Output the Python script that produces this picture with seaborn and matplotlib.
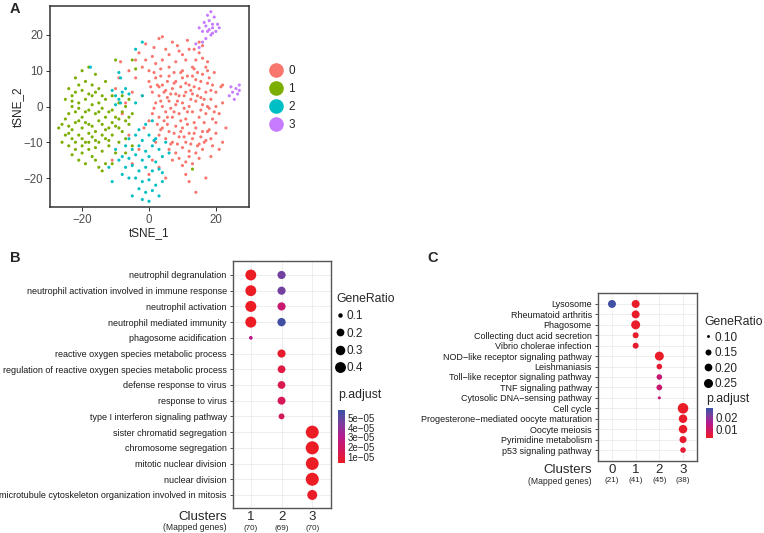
import numpy as np
import pandas as pd
import seaborn as sns
import matplotlib.pyplot as plt
from matplotlib.colors import LinearSegmentedColormap, Normalize
from matplotlib.cm import ScalarMappable
from matplotlib.lines import Line2D

# ---------------- panel A: tSNE embedding ----------------
cl0_pts = [
    (-3, 15), (-1, 17.5), (1, 14), (3, 19), (5, 16), (7, 18), (9, 15.5), (11, 13), (2, 12), (-2, 11),
    (0, 10), (4, 13), (6, 11), (8, 12.5), (10, 10), (12, 16), (13, 11), (15, 15), (14, 13), (-4, 13),
    (1.5, 16.5), (6, 14.5), (3.5, 10.5), (8.5, 17), (11.5, 18.5), (4, 19.5), (16, 13.5), (17, 11), (-1, 13),
    (10, 14.5), (13, 8.5), (0, 7), (2, 8), (4, 6), (6, 8.5), (8, 7), (10, 8), (12, 6), (14, 7.5), (16, 9),
    (18, 8), (19, 6), (20, 4), (1, 4), (3, 3), (5, 4.5), (7, 5), (9, 3), (11, 4), (13, 3.5), (15, 5), (17, 4),
    (18.5, 2), (2, 1), (4, 0), (6, 1.5), (8, 0.5), (10, 1), (12, 0), (14, 1.5), (16, 0.5), (18, -0.5), (20, 0),
    (1, -2), (3, -3), (5, -1.5), (7, -3), (9, -2), (11, -3.5), (13, -1.5), (15, -3), (17, -2), (19, -3.5),
    (0.5, 5.5), (11, 6.5), (7.5, 9.5), (15.5, 2.5), (9.5, 5.5), (5.5, 2.5), (13.5, 5.5), (17.5, 6.5), (3, 5.5),
    (12.5, 2), (6.5, -0.5), (16.5, -4.5), (21, -2), (22, 1), (21.5, 5.5), (19.5, 9.5), (17.5, 12.5), (14.5, 9.5),
    (8, 3.5), (10.5, -0.5), (4.5, -4), (2.5, -5), (4, -6), (6, -7), (8, -5.5), (10, -6), (12, -7.5), (14, -6),
    (16, -7), (18, -6.5), (20, -7.5), (5, -9), (7, -10), (9, -8.5), (11, -10), (13, -9), (15, -10.5), (17, -9.5),
    (19, -11), (6, -12), (8, -13), (10, -11.5), (12, -12.5), (14, -13), (16, -12), (9, -14.5), (11, -15.5),
    (7, -15), (13, -16), (3, -8), (2, -10), (21, -12), (20, -4.5), (18.5, -14), (5, -20), (11, -19), (12, -21),
    (17, -20), (14, -24), (-8, -2), (-7, 1), (-6, -8), (-9, 8), (-3, -12), (-5, -16), (-11, -15), (0, -19),
    (22, -10), (23, -6), (-5, 4), (-10, 5), (-4, 8), (-6, 10), (22, 6), (13.5, 16), (15, 18), (16, 17),
    (-1.5, -6), (0, -4), (-2, 3), (-8.5, 12.5), (1, -15), (3, -17), (1.5, 9.5), (3.5, 8.5), (5.5, 7), (7.5, 6.5),
    (9.5, 9.5), (11.5, 8.5), (13.5, 10.5), (15.5, 7), (17.5, 10), (2.5, 6), (4.5, 4), (6.5, 3.5), (8.5, 1.5),
    (10.5, 3), (12.5, 4.5), (14.5, 3), (16.5, 2), (18.5, 4.5), (1.5, -0.5), (3.5, 1.5), (5.5, -3), (7.5, -1.5),
    (9.5, -4), (11.5, -1.5), (13.5, -4.5), (15.5, -1), (17.5, 0), (19.5, -1.5), (3.5, -6.5), (5.5, -5),
    (7.5, -7.5), (9.5, -7), (11.5, -5), (13.5, -7.5), (15.5, -8.5), (17.5, -7), (6.5, -10.5), (8.5, -10.5),
    (10.5, -8.5), (12.5, -10.5), (14.5, -11), (16.5, -10), (18.5, -9), (10, -16.5), (12, -14), (15, -14.5),
]
cl1_pts = [
    (-20, 10), (-18, 11), (-22, 8), (-24, 5), (-19, 7), (-17, 6), (-21, 6), (-15, 5), (-13, 7), (-23, 3),
    (-16, 9), (-25, 2), (-23, 0), (-21, 1), (-19, 2), (-17, 3), (-15, 1), (-13, 2), (-11, 3), (-9, 1), (-7, 0),
    (-24, -2), (-22, -1.5), (-20, -3), (-18, -1), (-16, -2), (-14, -0.5), (-12, -1.5), (-10, -3), (-8, -1.5),
    (-6, -3), (-26, -5), (-24, -5.5), (-22, -4.5), (-20, -6), (-18, -5), (-16, -7), (-14, -5), (-12, -6),
    (-10, -5.5), (-8, -7), (-6, -5), (-25, -8), (-23, -9), (-21, -8), (-19, -10), (-17, -8.5), (-15, -10),
    (-13, -9), (-11, -8), (-9, -10), (-7, -9), (-24, -11), (-22, -12), (-20, -13), (-18, -12), (-16, -11.5),
    (-14, -12.5), (-12, -11), (-10, -13), (-21, -15), (-19, -16), (-16, -15), (-15, -17), (-14, -18),
    (-13, -16), (-7, -13), (-5, -11), (-27, -6), (-26, -10), (-23, -13.5), (-17, -14), (-11, -16), (-22, 4),
    (-20, 4.5), (-18, 3.5), (-16, 4), (-14, 3), (-23, 1.5), (-21, -0.5), (-19, -1.5), (-17, 0.5), (-15, -1.5),
    (-13, -3), (-11, -1), (-9, -3.5), (-25, -3.5), (-23, -6.5), (-21, -4), (-19, -4.5), (-17, -5.5), (-15, -4),
    (-13, -6.5), (-11, -4.5), (-24, -7.5), (-22, -10), (-20, -9), (-18, -7.5), (-16, -9.5), (-14, -8),
    (-12, -9.5), (-20, -11), (-18, -10), (-9, -6), (-7, -4), (-5, -2), (-6, 2), (-8, 3), (-5, 13), (-10, 13),
    (-4, 10.5), (13, -17.5),
]
cl2_pts = [
    (-10, 3), (-8, 4), (-9, 2), (-7, 5), (-11, 4.5), (-8.5, 1), (-6, 3.5), (-10, 0.5), (-17.5, 11),
    (-2, 18), (-4, 16), (-9, 9.5), (-8.5, 8), (-2, 3), (-6, -9), (-4, -8), (-2, -9.5), (0, -8), (2, -9),
    (-7, -11), (-5, -12), (-3, -11), (-1, -12.5), (1, -11), (3, -12), (-8, -14), (-6, -14.5), (-4, -13.5),
    (-2, -15), (0, -14), (2, -15.5), (4, -14), (-7, -17), (-5, -16.5), (-3, -18), (-1, -17), (1, -18),
    (3, -17.5), (-9, -15), (-10, -12), (-4, -20), (-2, -21), (0, -20.5), (2, -22), (-3, -23), (-1, -24),
    (1, -23.5), (3, -25), (-2, -26), (0, -26.5), (-5, -25), (4, -21), (5, -10), (-1, -5), (1, -4),
    (-12, -17), (-11, -21), (4, -18.5), (-3, -6.5), (6, -13), (-6, -20), (-8, -19), (1.5, -9.5), (-4, 1),
]
cl3_pts = [
    (16, 21), (17, 22.5), (18, 24), (19, 23), (20, 21), (18.5, 20), (17.5, 25.5), (19.5, 25), (16.5, 23.5),
    (20.5, 23), (18, 21.5), (19, 20.5), (15, 22), (17, 19), (21, 22), (18.5, 26.5), (16, 18), (15, 16.5),
    (14, 17.5), (19, 22), (17.5, 21), (25, 4), (26, 5), (27, 6), (24, 3), (25.5, 2), (26.5, 3.5), (24.5, 5.5),
    (27, 4.5),
]
cluster_colors = {"0": "#F8766D", "1": "#7CAE00", "2": "#00BFC4", "3": "#C77CFF"}

# ---------------- panel B: GO enrichment ----------------
terms_b = ["neutrophil degranulation", "neutrophil activation involved in immune response",
           "neutrophil activation", "neutrophil mediated immunity", "phagosome acidification",
           "reactive oxygen species metabolic process",
           "regulation of reactive oxygen species metabolic process", "defense response to virus",
           "response to virus", "type I interferon signaling pathway", "sister chromatid segregation",
           "chromosome segregation", "mitotic nuclear division", "nuclear division",
           "microtubule cytoskeleton organization involved in mitosis"]
b_cluster = [1, 1, 1, 1, 1, 2, 2, 2, 2, 2, 2, 2, 2, 2, 3, 3, 3, 3, 3]
b_term = [0, 1, 2, 3, 4, 0, 1, 2, 3, 5, 6, 7, 8, 9, 10, 11, 12, 13, 14]
b_ratio = [0.40, 0.40, 0.41, 0.41, 0.092, 0.22, 0.22, 0.22, 0.23, 0.22, 0.20, 0.20, 0.21, 0.13,
           0.58, 0.60, 0.57, 0.59, 0.33]
b_padj = [4e-6, 4e-6, 4e-6, 4e-6, 2.8e-5, 4.6e-5, 4.6e-5, 2.2e-5, 5.6e-5, 6e-6, 1.1e-5, 1.4e-5,
          1.6e-5, 1.7e-5, 4e-6, 4e-6, 4e-6, 4e-6, 5e-6]
b_xlabels = ["1", "2", "3"]
b_mapped = ["(70)", "(69)", "(70)"]

# ---------------- panel C: KEGG enrichment ----------------
terms_c = ["Lysosome", "Rheumatoid arthritis", "Phagosome", "Collecting duct acid secretion",
           "Vibrio cholerae infection", "NOD\u2212like receptor signaling pathway", "Leishmaniasis",
           "Toll\u2212like receptor signaling pathway", "TNF signaling pathway",
           "Cytosolic DNA\u2212sensing pathway", "Cell cycle",
           "Progesterone\u2212mediated oocyte maturation", "Oocyte meiosis", "Pyrimidine metabolism",
           "p53 signaling pathway"]
c_cluster = [0, 1, 1, 1, 1, 1, 2, 2, 2, 2, 2, 3, 3, 3, 3, 3]
c_term = [0, 0, 1, 2, 3, 4, 5, 6, 7, 8, 9, 10, 11, 12, 13, 14]
c_ratio = [0.21, 0.21, 0.21, 0.25, 0.15, 0.15, 0.25, 0.14, 0.14, 0.145, 0.101, 0.32, 0.23, 0.23, 0.18, 0.14]
c_padj = [0.0275, 0.004, 0.004, 0.004, 0.004, 0.0045, 0.004, 0.005, 0.012, 0.012, 0.013, 0.0037,
          0.004, 0.004, 0.0045, 0.005]
c_xlabels = ["0", "1", "2", "3"]
c_mapped = ["(21)", "(41)", "(45)", "(38)"]

W, H = 764, 533
sns.set_theme(style="white")
plt.rcParams["font.family"] = ["Liberation Sans", "DejaVu Sans"]
plt.rcParams["axes.unicode_minus"] = True

fig = plt.figure(figsize=(W / 100, H / 100), dpi=100)


def px_axes(l, t, r, b):
    return fig.add_axes([l / W, 1 - b / H, (r - l) / W, (b - t) / H])


pad_cmap = LinearSegmentedColormap.from_list("padj", ["#EC1C24", "#D4185E", "#B41B8E", "#7A3F9E", "#3953A4"])


def size_b(v):
    d = 3.1 + 14 * np.sqrt(np.clip(np.asarray(v) - 0.09, 0, None))
    return (d * 0.72) ** 2


def size_c(v):
    d = 1.56 + 18.9 * np.sqrt(np.clip(np.asarray(v) - 0.095, 0, None))
    return (d * 0.72) ** 2


# ---- A ----
rows = []
for lab, pts in zip(["0", "1", "2", "3"], [cl0_pts, cl1_pts, cl2_pts, cl3_pts]):
    for x, y in pts:
        rows.append({"tSNE_1": x, "tSNE_2": y, "cluster": lab})
tsne = pd.DataFrame(rows)

axA = px_axes(50, 6, 249, 207)
sns.scatterplot(data=tsne, x="tSNE_1", y="tSNE_2", hue="cluster", palette=cluster_colors,
                s=5, linewidth=0, legend=False, ax=axA)
axA.set_xlim(-29.6, 29.9)
axA.set_ylim(-28.1, 28.1)
axA.set_xticks([-20, 0, 20])
axA.set_yticks([-20, -10, 0, 10, 20])
axA.tick_params(length=3, width=0.7, color="#333333", labelsize=8.3, labelcolor="#4D4D4D", pad=2,
                bottom=True, left=True)
axA.set_xlabel("tSNE_1", fontsize=8.5, labelpad=1)
axA.set_ylabel("tSNE_2", fontsize=8.5, labelpad=0)
for sp in axA.spines.values():
    sp.set_color("#333333")
    sp.set_linewidth(1.1)
handles = [Line2D([], [], marker="o", ls="", markersize=10.5, markeredgewidth=0, color=cluster_colors[k])
           for k in ["0", "1", "2", "3"]]
axA.legend(handles, ["0", "1", "2", "3"], loc="upper left", bbox_to_anchor=(270 / W, 1 - 65 / H),
           bbox_transform=fig.transFigure, frameon=False, fontsize=8.5, handlelength=1.0,
           handletextpad=0.55, labelspacing=0.5, borderpad=0, borderaxespad=0)


def dotplot(ax, terms, cl, tm, ratio, padj, sizefun, norm, xlabels, mapped, xlim, ylim, tick_fs):
    df = pd.DataFrame({"Cluster": cl, "term": tm, "GeneRatio": ratio, "p.adjust": padj})
    df["s"] = sizefun(df["GeneRatio"])
    smin, smax = df["s"].min(), df["s"].max()
    sns.scatterplot(data=df, x="Cluster", y="term", hue="p.adjust", palette=pad_cmap, hue_norm=norm,
                    size="s", sizes=(smin, smax), size_norm=(smin, smax), linewidth=0,
                    legend=False, ax=ax, zorder=3)
    xs = [int(v) for v in xlabels]
    ax.set_xticks(xs)
    ax.set_xticklabels([])
    ax.set_yticks(range(len(terms)))
    ax.set_yticklabels(terms, fontsize=tick_fs, color="#1A1A1A")
    ax.set_xlim(*xlim)
    ax.set_ylim(*ylim)
    ax.set_xlabel("")
    ax.set_ylabel("")
    ax.grid(True, color="#EBEBEB", lw=0.6)
    ax.set_axisbelow(True)
    ax.tick_params(axis="y", left=True, length=2.5, width=0.6, color="#333333", pad=2)
    ax.tick_params(axis="x", bottom=False, length=0)
    for sp in ax.spines.values():
        sp.set_color("#555555")
        sp.set_linewidth(1.0)
    for x, lab, m in zip(xs, xlabels, mapped):
        ax.annotate(lab, (x, 0), xycoords=("data", "axes fraction"), xytext=(0, -9),
                    textcoords="offset pixels", ha="center", va="center", fontsize=9.5)
        ax.annotate(m, (x, 0), xycoords=("data", "axes fraction"), xytext=(0, -20),
                    textcoords="offset pixels", ha="center", va="center", fontsize=5.8)
    ax.annotate("Clusters", (0, 0), xycoords="axes fraction", xytext=(-6, -9),
                textcoords="offset pixels", ha="right", va="center", fontsize=9.5)
    ax.annotate("(Mapped genes)", (0, 0), xycoords="axes fraction", xytext=(-6, -20),
                textcoords="offset pixels", ha="right", va="center", fontsize=6.2)


def size_legend(ax, values, labels, sizefun, x, y, spacing):
    hs = [Line2D([], [], marker="o", ls="", color="black", markeredgewidth=0,
                 markersize=float(np.sqrt(sizefun(v)))) for v in values]
    leg = ax.legend(hs, labels, title="GeneRatio", loc="upper left", bbox_to_anchor=(x / W, 1 - y / H),
                    bbox_transform=fig.transFigure, frameon=False, fontsize=8.5, title_fontsize=8.8,
                    handlelength=0.7, handletextpad=0.15, labelspacing=spacing, borderpad=0,
                    borderaxespad=0, alignment="left")
    return leg


def colorbar(l, t, r, b, norm, ticks, labels, fs):
    cax = px_axes(l, t, r, b)
    cb = fig.colorbar(ScalarMappable(norm=Normalize(*norm), cmap=pad_cmap), cax=cax)
    cb.outline.set_visible(False)
    cb.set_ticks(ticks)
    cb.set_ticklabels(labels)
    cax.tick_params(length=0, labelsize=fs, pad=2)


# ---- B ----
axB = px_axes(233, 261, 331, 508)
dotplot(axB, terms_b, b_cluster, b_term, b_ratio, b_padj, size_b, (3.8e-6, 5.8e-5),
        b_xlabels, b_mapped, (0.42, 3.61), (14.83, -0.89), 6.5)
size_legend(axB, [0.1, 0.2, 0.3, 0.4], ["0.1", "0.2", "0.3", "0.4"], size_b, 336, 293, 0.45)
fig.text(338 / W, 1 - 395 / H, "p.adjust", fontsize=8.8, va="center", ha="left")
colorbar(338, 410, 345, 463, (3.8e-6, 5.8e-5), [1e-5, 2e-5, 3e-5, 4e-5, 5e-5],
         ["1e\u221205", "2e\u221205", "3e\u221205", "4e\u221205", "5e\u221205"], 7.0)

# ---- C ----
axC = px_axes(598, 293, 697, 461)
dotplot(axC, terms_c, c_cluster, c_term, c_ratio, c_padj, size_c, (0.0033, 0.0283),
        c_xlabels, c_mapped, (-0.59, 3.59), (15.05, -1.05), 6.45)
size_legend(axC, [0.10, 0.15, 0.20, 0.25], ["0.10", "0.15", "0.20", "0.25"], size_c, 704, 316, 0.3)
fig.text(706 / W, 1 - 399 / H, "p.adjust", fontsize=8.8, va="center", ha="left")
colorbar(706, 408, 713, 438, (0.0033, 0.0283), [0.01, 0.02], ["0.01", "0.02"], 8.3)

# panel letters
for lab, x, y in [("A", 15, 9), ("B", 15, 258), ("C", 433, 258)]:
    fig.text(x / W, 1 - y / H, lab, fontsize=10.5, fontweight="bold", ha="center", va="center")

fig.savefig("out.png", dpi=100)
